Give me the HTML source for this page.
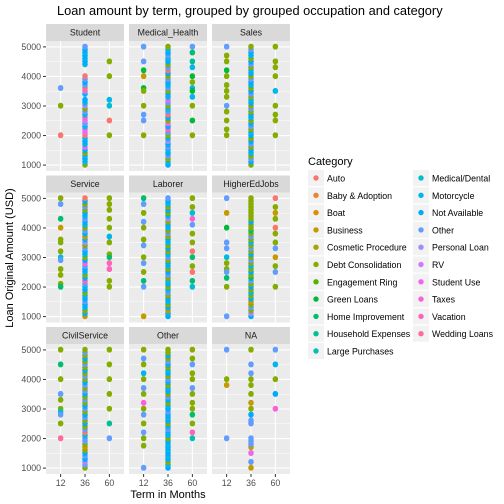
<!DOCTYPE html>
<html><head><meta charset="utf-8"><style>
body{margin:0;background:#fff}
svg{display:block;font-family:"Liberation Sans",sans-serif}
</style></head><body>
<svg id="c" width="504" height="504" viewBox="0 0 504 504"></svg>
<script>
const categories=["Auto","Baby & Adoption","Boat","Business","Cosmetic Procedure","Debt Consolidation","Engagement Ring","Green Loans","Home Improvement","Household Expenses","Large Purchases","Medical/Dental","Motorcycle","Not Available","Other","Personal Loan","RV","Student Use","Taxes","Vacation","Wedding Loans"];
const panelNames=["Student","Medical_Health","Sales","Service","Laborer","HigherEdJobs","CivilService","Other","NA"];
const termLevels=[12,36,60];
const yTicks=[1000,2000,3000,4000,5000];
const ptsStudent=[[12,2000,0],[12,3000,5],[12,3600,14],[60,4500,5],[60,4000,5],[60,3200,12],[60,3000,11],[60,2500,0],[60,2000,5],
[36,1000,5],[36,1100,12],[36,1200,13],[36,1300,12],[36,1400,5],[36,1500,13],[36,1600,17],[36,1700,12],[36,1800,13],[36,1900,12],[36,2000,0],[36,2100,17],[36,2200,17],[36,2300,12],[36,2400,14],[36,2500,16],[36,2600,19],[36,2700,12],[36,2800,14],[36,2900,5],[36,3000,15],[36,3100,12],[36,3200,13],[36,3400,12],[36,3500,17],[36,3600,0],[36,3700,14],[36,3800,13],[36,3900,14],[36,4000,0],[36,4400,12],[36,4500,13],[36,4600,12],[36,4700,13],[36,4800,12],[36,4900,13],[36,5000,14]];
const ptsMedical=[[12,5000,14],[12,4500,14],[12,4200,7],[12,4000,3],[12,3600,7],[12,3500,5],[12,3000,5],[12,2700,14],[12,2500,14],[12,2000,5],
[60,5000,14],[60,4800,8],[60,4500,9],[60,4300,12],[60,4000,7],[60,3800,5],[60,3600,12],[60,3500,7],[60,3300,12],[60,3000,5],[60,2500,7],[60,2000,5],
[36,1000,13],[36,1100,12],[36,1200,5],[36,1300,14],[36,1400,13],[36,1500,12],[36,1600,14],[36,1700,13],[36,1800,15],[36,1900,12],[36,2000,5],[36,2100,14],[36,2200,19],[36,2300,13],[36,2400,17],[36,2500,5],[36,2600,13],[36,2700,0],[36,2800,14],[36,2900,12],[36,3000,5],[36,3100,14],[36,3200,17],[36,3300,12],[36,3400,13],[36,3500,5],[36,3600,14],[36,3700,12],[36,3800,13],[36,3900,14],[36,4000,5],[36,4100,13],[36,4200,0],[36,4300,14],[36,4400,5],[36,4500,13],[36,4600,12],[36,4700,14],[36,4800,13],[36,4900,12],[36,5000,5]];
const ptsSales=[[12,5000,14],[12,4700,5],[12,4500,5],[12,4200,7],[12,4000,5],[12,3700,5],[12,3500,5],[12,3300,5],[12,3000,14],[12,2800,5],[12,2500,5],[12,2200,5],[12,2000,5],
[60,5000,5],[60,4500,5],[60,4300,5],[60,4000,5],[60,3500,12],[60,3000,5],[60,2700,5],[60,2500,5],[60,2000,5],
[36,1000,5],[36,1100,13],[36,1200,14],[36,1300,5],[36,1400,12],[36,1500,13],[36,1600,5],[36,1700,14],[36,1800,13],[36,1900,5],[36,2000,13],[36,2100,12],[36,2200,5],[36,2300,14],[36,2400,13],[36,2500,5],[36,2600,12],[36,2700,13],[36,2800,5],[36,2900,14],[36,3000,5],[36,3100,13],[36,3200,12],[36,3300,5],[36,3400,14],[36,3500,13],[36,3600,5],[36,3700,12],[36,3800,13],[36,3900,14],[36,4000,5],[36,4100,13],[36,4200,12],[36,4300,5],[36,4400,14],[36,4500,13],[36,4600,5],[36,4700,12],[36,4800,13],[36,4900,14],[36,5000,5]];
const ptsService=[[12,5000,5],[12,4800,14],[12,4300,8],[12,4000,3],[12,3600,5],[12,3500,5],[12,3200,5],[12,3000,11],[12,2900,14],[12,2600,5],[12,2400,5],[12,2100,5],[12,2000,8],
[60,5000,5],[60,4800,5],[60,4600,5],[60,4300,5],[60,4000,5],[60,3700,12],[60,3500,5],[60,3100,5],[60,3000,8],[60,2800,19],[60,2600,19],[60,2200,5],[60,2000,5],
[36,1000,3],[36,1100,13],[36,1200,5],[36,1300,12],[36,1400,13],[36,1500,14],[36,1600,13],[36,1700,12],[36,1800,5],[36,1900,13],[36,2000,12],[36,2100,14],[36,2200,19],[36,2300,13],[36,2400,5],[36,2500,12],[36,2600,13],[36,2700,14],[36,2800,18],[36,2900,13],[36,3000,5],[36,3100,12],[36,3200,13],[36,3300,14],[36,3400,5],[36,3500,15],[36,3600,12],[36,3700,3],[36,3800,13],[36,3900,14],[36,4000,5],[36,4100,12],[36,4200,13],[36,4300,14],[36,4400,12],[36,4500,13],[36,4600,5],[36,4700,14],[36,4800,5],[36,4900,13],[36,5000,0]];
const ptsLaborer=[[12,5000,8],[12,4800,14],[12,4500,5],[12,4200,14],[12,4000,5],[12,3600,5],[12,3400,14],[12,3000,5],[12,2800,14],[12,2500,5],[12,2200,8],[12,2000,14],[12,1000,3],
[60,5000,5],[60,4700,5],[60,4500,11],[60,4300,18],[60,4100,14],[60,3800,5],[60,3500,5],[60,3200,0],[60,3000,8],[60,2700,5],[60,2500,0],[60,2200,8],[60,2000,11],
[36,1000,13],[36,1100,12],[36,1200,3],[36,1300,13],[36,1400,5],[36,1500,12],[36,1600,13],[36,1700,5],[36,1800,14],[36,1900,12],[36,2000,5],[36,2100,13],[36,2200,12],[36,2300,5],[36,2400,14],[36,2500,13],[36,2600,5],[36,2700,12],[36,2800,13],[36,2900,5],[36,3000,14],[36,3100,12],[36,3200,5],[36,3300,13],[36,3400,5],[36,3500,12],[36,3600,13],[36,3700,5],[36,3800,14],[36,3900,5],[36,4000,12],[36,4100,13],[36,4200,5],[36,4300,15],[36,4400,12],[36,4500,5],[36,4600,13],[36,4700,5],[36,4800,12],[36,4900,13],[36,5000,14]];
const ptsHigherEd=[[12,5000,14],[12,4500,3],[12,4000,7],[12,3500,14],[12,3300,14],[12,3000,11],[12,2800,5],[12,2600,5],[12,2500,14],[12,2300,8],[12,2000,5],[12,1000,14],
[60,5000,0],[60,4700,5],[60,4500,3],[60,4300,5],[60,4000,0],[60,3800,5],[60,3500,5],[60,3300,14],[60,3000,3],[60,2700,5],[60,2500,14],[60,2000,5],
[36,1000,13],[36,1100,15],[36,1200,5],[36,1300,14],[36,1400,5],[36,1500,3],[36,1600,13],[36,1700,5],[36,1800,12],[36,1900,5],[36,2000,13],[36,2100,5],[36,2200,14],[36,2300,8],[36,2400,5],[36,2500,13],[36,2600,5],[36,2700,12],[36,2800,5],[36,2900,14],[36,3000,5],[36,3100,13],[36,3200,5],[36,3300,14],[36,3400,5],[36,3500,12],[36,3600,5],[36,3700,14],[36,3800,5],[36,3900,8],[36,4000,5],[36,4100,5],[36,4200,13],[36,4300,5],[36,4400,5],[36,4500,5],[36,4600,5],[36,4700,5],[36,4800,5],[36,4900,5],[36,5000,5]];
const ptsCivil=[[12,5000,5],[12,4500,8],[12,4000,5],[12,3500,14],[12,3300,5],[12,3000,5],[12,2900,11],[12,2800,14],[12,2500,5],[12,2000,20],
[60,5000,5],[60,4500,5],[60,4000,5],[60,3500,5],[60,3000,5],[60,2500,9],[60,2000,14],
[36,1000,5],[36,1100,14],[36,1200,15],[36,1300,13],[36,1400,14],[36,1500,13],[36,1600,5],[36,1700,3],[36,1800,5],[36,1900,14],[36,2000,14],[36,2100,11],[36,2200,0],[36,2300,14],[36,2400,5],[36,2500,13],[36,2600,5],[36,2700,14],[36,2800,13],[36,2900,5],[36,3000,14],[36,3100,13],[36,3200,5],[36,3300,14],[36,3400,5],[36,3500,13],[36,3600,14],[36,3700,5],[36,3800,14],[36,3900,13],[36,4000,5],[36,4100,14],[36,4200,5],[36,4300,13],[36,4400,5],[36,4500,14],[36,4600,5],[36,4700,13],[36,4800,5],[36,4900,14],[36,5000,5]];
const ptsOther=[[12,5000,5],[12,4700,14],[12,4500,5],[12,4200,12],[12,4000,5],[12,3700,14],[12,3500,5],[12,3200,18],[12,3000,5],[12,2800,14],[12,2500,5],[12,2200,14],[12,2000,5],[12,1750,5],[12,1000,14],
[60,5000,5],[60,4700,5],[60,4500,14],[60,4200,5],[60,4000,5],[60,3700,14],[60,3500,5],[60,3200,5],[60,3000,5],[60,2800,8],[60,2500,5],[60,2200,19],[60,2000,10],
[36,1000,13],[36,1100,12],[36,1200,5],[36,1300,13],[36,1400,12],[36,1500,13],[36,1600,12],[36,1700,13],[36,1800,12],[36,1900,13],[36,2000,5],[36,2100,12],[36,2200,13],[36,2300,14],[36,2400,12],[36,2500,5],[36,2600,13],[36,2700,12],[36,2800,13],[36,2900,14],[36,3000,13],[36,3100,12],[36,3200,5],[36,3300,13],[36,3400,14],[36,3500,5],[36,3600,13],[36,3700,12],[36,3800,5],[36,3900,13],[36,4000,14],[36,4100,5],[36,4200,13],[36,4300,12],[36,4400,5],[36,4500,13],[36,4600,14],[36,4700,5],[36,4800,13],[36,4900,5],[36,5000,5]];
const ptsNA=[[12,5000,14],[12,4000,5],[12,3800,3],[12,2000,14],[60,5000,14],[60,4500,12],[60,4000,5],[60,3500,13],[60,3000,18],
[36,1000,3],[36,1200,14],[36,1500,17],[36,1700,3],[36,1800,14],[36,1900,14],[36,2000,14],[36,2500,14],[36,2600,14],[36,2800,13],[36,3000,5],[36,3200,3],[36,3500,5],[36,3800,5],[36,4000,5],[36,4200,14],[36,4500,14],[36,5000,5]];
const panelData=[ptsStudent,ptsMedical,ptsSales,ptsService,ptsLaborer,ptsHigherEd,ptsCivil,ptsOther,ptsNA];

function hcl(h,c,l){h=h*Math.PI/180;const L=l,U=c*Math.cos(h),V=c*Math.sin(h);
const Xn=95.047,Yn=100,Zn=108.883;const un=4*Xn/(Xn+15*Yn+3*Zn),vn=9*Yn/(Xn+15*Yn+3*Zn);
const Y=L>8?Yn*Math.pow((L+16)/116,3):Yn*L/903.3;const u=U/(13*L)+un,v=V/(13*L)+vn;
const X=9*Y*u/(4*v),Z=(12-3*u-20*v)*Y/(4*v);
let r=(3.2406*X-1.5372*Y-0.4986*Z)/100,g=(-0.9689*X+1.8758*Y+0.0415*Z)/100,b=(0.0557*X-0.2040*Y+1.0570*Z)/100;
const f=x=>{x=x<=0.0031308?12.92*x:1.055*Math.pow(x,1/2.4)-0.055;return Math.round(Math.max(0,Math.min(1,x))*255)};
return `rgb(${f(r)},${f(g)},${f(b)})`;}
const n=categories.length;
const colors=categories.map((_,i)=>hcl(15+360*i/n,100,65));

const NS="http://www.w3.org/2000/svg",svg=document.getElementById('c');
function E(t,a,p){const e=document.createElementNS(NS,t);for(const k in a)e.setAttribute(k,a[k]);(p||svg).appendChild(e);return e}
function T(x,y,s,a,p){const e=E('text',Object.assign({x,y},a),p);e.textContent=s;return e}
const PW=78,PH=130,colX=[46,129,212],rowY=[41,192.5,344];
const ymin=1000-200,ymax=5000+200;
const yScale=(v,top)=>top+PH*(ymax-v)/(ymax-ymin);
const xScale=(t,left)=>left+PW*(termLevels.indexOf(t)+0.6)/3.2;

const title=T(57,15,"Loan amount by term, grouped by grouped occupation and category",{"font-size":12.8,fill:"#000"});


panelNames.forEach((name,pi)=>{
 const r=Math.floor(pi/3),c=pi%3,L=colX[c],Tp=rowY[r];
 const g=E('g',{});
 const st=E('rect',{x:L,y:Tp-17,width:PW,height:17,fill:"#D9D9D9"},g);
 
 T(L+PW/2,Tp-5.5,name,{"font-size":8.8,fill:"#1A1A1A","text-anchor":"middle"},g);
 E('rect',{x:L,y:Tp,width:PW,height:PH,fill:"#EBEBEB"},g);
 for(let v=1500;v<=4500;v+=1000)E('line',{x1:L,x2:L+PW,y1:yScale(v,Tp),y2:yScale(v,Tp),stroke:"#fff","stroke-width":0.5},g);
 yTicks.forEach(v=>{const y=yScale(v,Tp);E('line',{x1:L,x2:L+PW,y1:y,y2:y,stroke:"#fff","stroke-width":1.1},g);
  if(c===0){E('line',{x1:L-3,x2:L,y1:y,y2:y,stroke:"#333","stroke-width":1},g);T(L-5,y+3,String(v),{"font-size":8.8,fill:"#4D4D4D","text-anchor":"end"},g);}});
 termLevels.forEach(t=>{const x=xScale(t,L);E('line',{x1:x,x2:x,y1:Tp,y2:Tp+PH,stroke:"#fff","stroke-width":1.1},g);
  if(r===2){E('line',{x1:x,x2:x,y1:Tp+PH,y2:Tp+PH+3,stroke:"#333","stroke-width":1},g);T(x,Tp+PH+12,String(t),{"font-size":8.8,fill:"#4D4D4D","text-anchor":"middle"},g);}});
 panelData[pi].forEach(p=>{const d=E('circle',{cx:xScale(p[0],L),cy:yScale(p[1],Tp),r:2.7,fill:colors[p[2]]},g);
  
  const d2=E('circle',{cx:xScale(p[0],L),cy:yScale(p[1],Tp)-0.6,r:2.7,fill:colors[p[2]]},g);
  });
});
const xt=T(168,498,"Term in Months",{"font-size":11,fill:"#000","text-anchor":"middle"});

const yt=T(0,0,"Loan Original Amount (USD)",{"font-size":11,fill:"#000","text-anchor":"middle",transform:"translate(13,258) rotate(-90)"});

const lg=E('g',{});
T(308,165,"Category",{"font-size":11,fill:"#000"},lg);
categories.forEach((cat,i)=>{const col=i<11?0:1,row=i<11?i:i-11;const bx=col?413:308,by=170+row*17.3;
 const e=E('g',{},lg);
 E('rect',{x:bx,y:by,width:16,height:16,fill:"#F2F2F2"},e);
 E('circle',{cx:bx+8,cy:by+8,r:2.7,fill:colors[i]},e);
 T(bx+19,by+11.5,cat,{"font-size":8.8,fill:"#000"},e);});
</script>
</body></html>
